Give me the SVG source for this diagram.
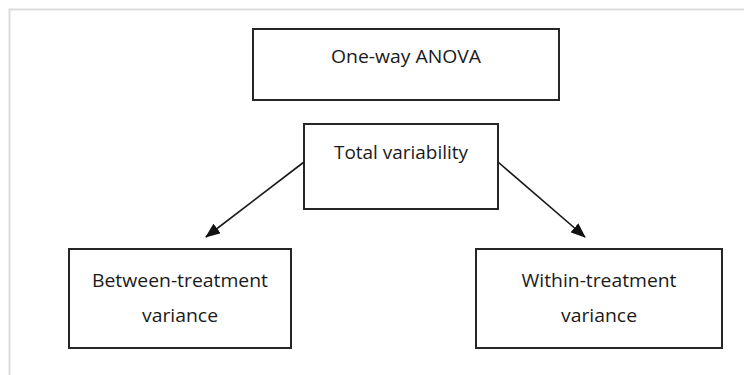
<svg xmlns="http://www.w3.org/2000/svg" width="744" height="375" viewBox="0 0 744 375">
  <style>
    .box { fill: #ffffff; stroke: #262626; stroke-width: 2; }
    .label { font-family: "Open Sans", "Noto Sans", "Liberation Sans", sans-serif; font-size: 19px; fill: #1a1a1a; text-anchor: middle; }
    .edge { stroke: #1a1a1a; stroke-width: 1.6; fill: none; }
  </style>
  <defs>
    <marker id="arrow" viewBox="0 0 15 12" refX="14" refY="6" markerWidth="15" markerHeight="12" markerUnits="userSpaceOnUse" orient="auto">
      <path d="M0,0 L15,6 L0,12 Z" fill="#111111"/>
    </marker>
  </defs>

  <!-- page background and frame -->
  <rect x="0" y="0" width="744" height="375" fill="#ffffff"/>
  <path d="M9.5,375 L9.5,9.5 L744,9.5" fill="none" stroke="#dcdcdc" stroke-width="2"/>

  <g id="anova">
    <rect class="box" x="253" y="29" width="306" height="71"/>
    <text class="label" x="406" y="63" textLength="150" lengthAdjust="spacingAndGlyphs">One-way ANOVA</text>
  </g>

  <g id="total">
    <rect class="box" x="304" y="124" width="194" height="85"/>
    <text class="label" x="401" y="159" textLength="134" lengthAdjust="spacingAndGlyphs">Total variability</text>
  </g>

  <g id="between">
    <rect class="box" x="69" y="249" width="222" height="99"/>
    <text class="label" x="180" y="287" textLength="176" lengthAdjust="spacingAndGlyphs">Between-treatment</text>
    <text class="label" x="180" y="322" textLength="76" lengthAdjust="spacingAndGlyphs">variance</text>
  </g>

  <g id="within">
    <rect class="box" x="476" y="249" width="246" height="99"/>
    <text class="label" x="599" y="287" textLength="155" lengthAdjust="spacingAndGlyphs">Within-treatment</text>
    <text class="label" x="599" y="322" textLength="76" lengthAdjust="spacingAndGlyphs">variance</text>
  </g>

  <g id="connectors">
    <line class="edge" x1="304" y1="162" x2="206" y2="237" marker-end="url(#arrow)"/>
    <line class="edge" x1="498" y1="162" x2="585" y2="237" marker-end="url(#arrow)"/>
  </g>
</svg>
